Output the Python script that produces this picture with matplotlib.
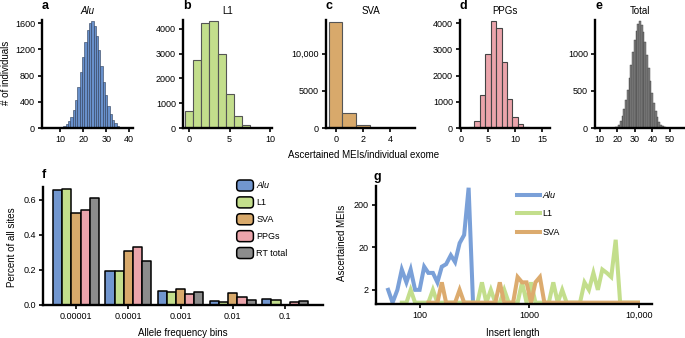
import numpy as np
import matplotlib.pyplot as plt
import matplotlib.ticker as mticker
from matplotlib.patches import Patch, FancyBboxPatch
from matplotlib.legend_handler import HandlerPatch

plt.rcParams['font.family'] = ['Liberation Sans', 'DejaVu Sans']
plt.rcParams['font.size'] = 6.5

# ---------------- data ----------------
# a-e: per-individual histograms (bin centre, # of individuals)
alu_bins = list(range(10, 38))
alu_counts = [6, 14, 28, 55, 100, 170, 280, 430, 620, 850, 1090, 1320, 1500, 1610,
              1640, 1560, 1400, 1190, 950, 710, 500, 340, 210, 125, 70, 37, 18, 8]
l1_bins = list(range(0, 8))
l1_counts = [680, 2760, 4250, 4300, 2970, 1390, 480, 130]
sva_bins = [0, 1, 2]
sva_counts = [14320, 2030, 360]
ppg_bins = list(range(2, 13))
ppg_counts = [20, 280, 1240, 2820, 4090, 3800, 2500, 1120, 420, 140, 20]
total_bins = list(range(19, 49))
total_counts = [8, 20, 45, 90, 160, 250, 370, 510, 670, 850, 1020, 1180, 1310, 1400, 1435,
                1390, 1290, 1150, 980, 800, 630, 470, 340, 230, 145, 85, 45, 22, 10, 4]

# f: allele frequency spectrum
freq_bins = ['0.00001', '0.0001', '0.001', '0.01', '0.1']
freq_series = ['Alu', 'L1', 'SVA', 'PPGs', 'RT total']
alu_frac = [0.653, 0.196, 0.080, 0.025, 0.034]
l1_frac = [0.663, 0.196, 0.076, 0.019, 0.030]
sva_frac = [0.524, 0.309, 0.093, 0.069, 0.0]
ppg_frac = [0.541, 0.328, 0.065, 0.044, 0.015]
rt_frac = [0.610, 0.248, 0.074, 0.030, 0.025]

# g: insert length distribution
insert_len = [51, 56, 62, 68, 75, 82, 90, 99, 109, 119, 131, 144, 158, 173, 191, 209,
              230, 253, 278, 305, 335, 368, 404, 444, 488, 536, 589, 647, 710, 780, 857,
              942, 1035, 1136, 1248, 1371, 1506, 1655, 1817, 1996, 2193, 2409, 2646,
              2906, 3192, 3507, 3852, 4232, 4648, 5106, 5609, 6161, 6768, 7434, 8166,
              8970, 9854]
alu_mei = [2, 1, 2, 6, 3, 6, 2, 2, 7, 5, 5, 3, 7, 8, 13, 9, 25, 39, 500, 1]
l1_mei = [1, 1, 2, 1, 1, 1, 1, 2, 1, 1, 1, 1, 1, 1, 1, 1, 1, 1, 3, 1, 2, 1, 1, 2, 1,
          1, 1, 3, 1, 3, 1, 1, 1, 1, 3, 1, 2, 1, 1, 1, 1, 3, 2, 5, 2, 6, 5, 4, 30, 1,
          1, 1, 1, 1]
sva_mei = [1, 1, 1, 3, 1, 1, 1, 2, 1, 1, 1, 1, 1, 1, 1, 1, 3, 1, 1, 1, 4, 3, 3, 1, 3,
           4, 1, 1, 1, 1, 1, 1, 1, 1, 1, 1, 1, 1, 1, 1, 1, 1, 1, 1, 1, 1, 1, 1]

c_alu, c_l1, c_sva, c_ppg, c_rt = '#7196cf', '#c3de8c', '#d8a96b', '#eba4ab', '#8c8c8c'

W, H = 685, 338
fig = plt.figure(figsize=(W / 100, H / 100), dpi=100)


def px_axes(l, r, t, b):
    return fig.add_axes([l / W, (H - b) / H, (r - l) / W, (b - t) / H])


def style(ax):
    for s in ['top', 'right']:
        ax.spines[s].set_visible(False)
    for s in ['left', 'bottom']:
        ax.spines[s].set_linewidth(1.7)
    ax.tick_params(direction='out', length=3, width=1.2, pad=2, labelsize=6.5)


def comma(v, pos):
    v = int(round(v))
    return f'{v:,}' if v >= 10000 else str(v)


hists = [
    ('a', 'Alu', alu_bins, alu_counts, '#6890cb', '#2c3b57', 0.4, (42, 133), (2.2, 41.6), 1650, [10, 20, 30, 40], [0, 400, 800, 1200, 1600]),
    ('b', 'L1', l1_bins, l1_counts, c_l1, '#555555', 0.8, (183, 272), (-0.78, 10.25), 4360, [0, 5, 10], [0, 1000, 2000, 3000, 4000]),
    ('c', 'SVA', sva_bins, sva_counts, c_sva, '#555555', 0.8, (326, 415), (-0.71, 5.83), 14550, [0, 2, 4], [0, 5000, 10000]),
    ('d', 'PPGs', ppg_bins, ppg_counts, c_ppg, '#444444', 0.8, (460, 550), (-0.13, 16.4), 4120, [0, 5, 10, 15], [0, 1000, 2000, 3000, 4000]),
    ('e', 'Total', total_bins, total_counts, '#828282', '#3a3a3a', 0.3, (595, 684), (7.4, 58), 1452, [10, 20, 30, 40, 50], [0, 500, 1000]),
]
for letter, title, xs, ys, fc, ec, lw, (l, r), xlim, ytop, xt, yt in hists:
    ax = px_axes(l, r, 20, 128)
    ax.bar(xs, ys, width=1.0, color=fc, edgecolor=ec, linewidth=lw)
    style(ax)
    ax.set_xlim(*xlim)
    ax.set_ylim(0, ytop)
    ax.set_xticks(xt)
    ax.set_yticks(yt)
    ax.yaxis.set_major_formatter(mticker.FuncFormatter(comma))
    fig.text(l / W, 1 - 6 / H, letter, fontsize=9, fontweight='bold', ha='left', va='center')
    fig.text((l + r) / 2 / W, 1 - 11 / H, title, fontsize=7, ha='center', va='center',
             style='italic' if title == 'Alu' else 'normal')

fig.text(6 / W, 1 - 73 / H, '# of individuals', rotation=90, ha='center', va='center', fontsize=7)
fig.text(363.5 / W, 1 - 155 / H, 'Ascertained MEIs/individual exome', ha='center', va='center', fontsize=7)

# ---------------- f ----------------
axf = px_axes(43.3, 323.3, 187, 305)
xg = np.arange(len(freq_bins))
bw = 0.175
fracs = [alu_frac, l1_frac, sva_frac, ppg_frac, rt_frac]
cols = [c_alu, c_l1, c_sva, c_ppg, c_rt]
for i, (vals, col) in enumerate(zip(fracs, cols)):
    axf.bar(xg + (i - 2) * bw, vals, width=bw, color=col, edgecolor='black', linewidth=1.1,
            joinstyle='round')
style(axf)
axf.set_xlim(-0.626, 4.73)
axf.set_ylim(0, 0.672)
axf.set_xticks(xg)
axf.set_xticklabels(freq_bins)
axf.set_yticks([0, 0.2, 0.4, 0.6])
axf.yaxis.set_major_formatter(mticker.FormatStrFormatter('%.1f'))
fig.text(41.7 / W, 1 - 175 / H, 'f', fontsize=9, fontweight='bold', ha='left', va='center')
fig.text(12 / W, 1 - 246.7 / H, 'Percent of all sites', rotation=90, ha='center', va='center', fontsize=7)
fig.text(183 / W, 1 - 332.7 / H, 'Allele frequency bins', ha='center', va='center', fontsize=7)


class RoundBox(HandlerPatch):
    def create_artists(self, legend, orig_handle, xdescent, ydescent, width, height, fontsize, trans):
        p = FancyBboxPatch((-xdescent, -ydescent), width, height,
                           boxstyle='round,pad=0,rounding_size=2.5',
                           facecolor=orig_handle.get_facecolor(), edgecolor='black',
                           linewidth=1.1, transform=trans)
        return [p]


handles = [Patch(facecolor=c) for c in cols]
legf = fig.legend(handles, freq_series, loc='upper left', bbox_to_anchor=(236.7 / W, 1 - 180 / H),
                  frameon=False, borderpad=0, borderaxespad=0, handlelength=1.85, handleheight=1.5,
                  labelspacing=0.65, handletextpad=0.3, fontsize=6.5,
                  handler_map={Patch: RoundBox()})
legf.get_texts()[0].set_style('italic')

# ---------------- g ----------------
axg = px_axes(376, 652, 186, 304)
axg.plot(insert_len[:len(alu_mei)], alu_mei, color='#7aa0d8', lw=2.9, label='Alu', solid_joinstyle='miter')
axg.plot(insert_len[3:3 + len(l1_mei)], l1_mei, color=c_l1, lw=2.9, label='L1', solid_joinstyle='miter')
axg.plot(insert_len[9:9 + len(sva_mei)], sva_mei, color='#dcab6e', lw=2.9, label='SVA', solid_joinstyle='miter')
style(axg)
axg.set_xscale('log')
axg.set_yscale('log')
axg.set_xlim(39.5, 13240)
axg.set_ylim(0.93, 550)
axg.set_xticks([100, 1000, 10000])
axg.set_xticklabels(['100', '1000', '10,000'])
axg.set_yticks([2, 20, 200])
axg.set_yticklabels(['2', '20', '200'])
axg.xaxis.set_minor_locator(mticker.NullLocator())
axg.yaxis.set_minor_locator(mticker.NullLocator())
fig.text(373 / W, 1 - 176.7 / H, 'g', fontsize=9, fontweight='bold', ha='left', va='center')
fig.text(341.7 / W, 1 - 243 / H, 'Ascertained MEIs', rotation=90, ha='center', va='center', fontsize=7)
fig.text(513 / W, 1 - 332.7 / H, 'Insert length', ha='center', va='center', fontsize=7)
legg = axg.legend(loc='upper left', bbox_to_anchor=(517 / W, 1 - 191 / H), bbox_transform=fig.transFigure,
                  frameon=False, borderpad=0, borderaxespad=0, handlelength=2.5,
                  labelspacing=1.05, handletextpad=0.3, fontsize=6.5)
legg.get_texts()[0].set_style('italic')

fig.savefig('out.png', dpi=100)
